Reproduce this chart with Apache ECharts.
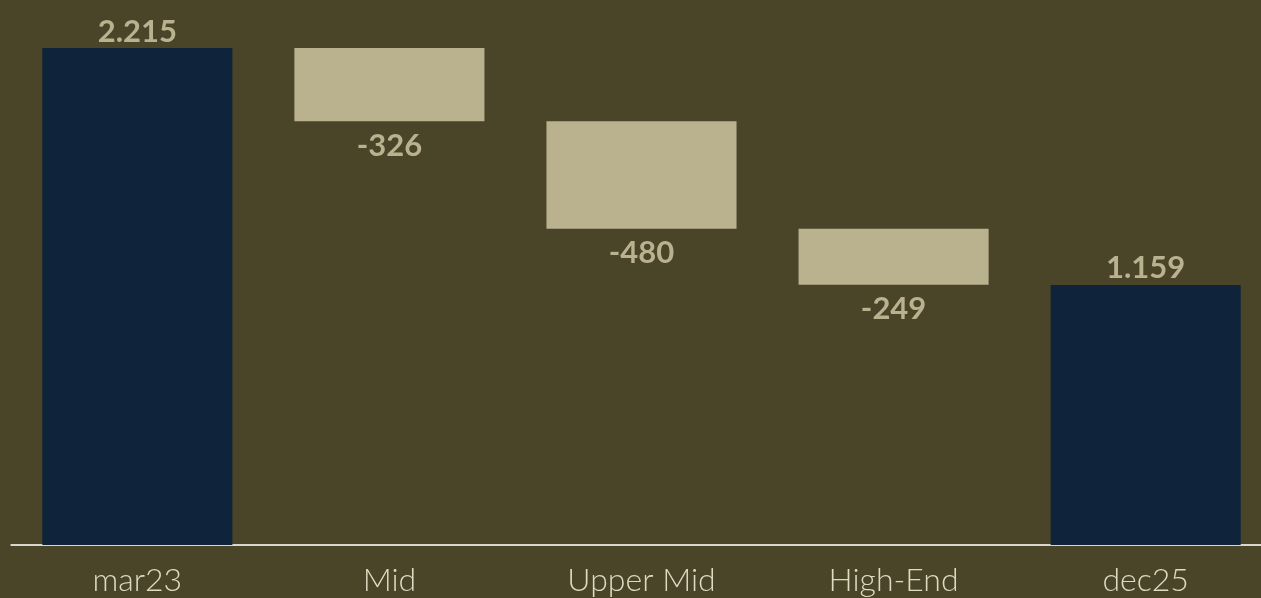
<!DOCTYPE html>
<html>
<head>
<meta charset="utf-8">
<style>
  html, body { margin: 0; padding: 0; background: #4a4529; }
  #chart { width: 1261px; height: 598px; }
</style>
<script src="https://cdn.jsdelivr.net/npm/echarts@6/dist/echarts.min.js"></script>
</head>
<body>
<div id="chart"></div>
<script>
// Bridge: start total, segment changes, end total
const categories = ['mar23', 'Mid', 'Upper Mid', 'High-End', 'dec25'];
const changes = [2215, -326, -480, -249, 1159];
const isTotal = [true, false, false, false, true];

// Invisible offsets and visible heights for the stacked waterfall
const offsets = [];
const heights = [];
let running = 0;
changes.forEach((v, i) => {
  if (isTotal[i]) {
    offsets.push(0);
    heights.push(v);
    running = v;
  } else {
    running += v;
    offsets.push(v < 0 ? running : running - v);
    heights.push(Math.abs(v));
  }
});

const NAVY = '#0f233b';
const SAND = '#bab18f';

function fmt(v) {
  const s = Math.abs(v).toString();
  const body = s.length > 3 ? s.slice(0, s.length - 3) + '.' + s.slice(s.length - 3) : s;
  return (v < 0 ? '-' : '') + body;
}

const chart = echarts.init(document.getElementById('chart'));
chart.setOption({
  backgroundColor: '#4a4529',
  animation: false,
  grid: {
    left: 11.3, right: -10.7, top: 6.5, bottom: 53,
    containLabel: false,
    outerBoundsMode: 'none'
  },
  xAxis: {
    type: 'category',
    data: categories,
    axisTick: { show: false },
    axisLine: { show: true, lineStyle: { color: '#d9d6cc', width: 2 } },
    axisLabel: {
      color: '#dedac3',
      fontFamily: 'Lato',
      fontWeight: 300,
      fontSize: 32,
      margin: 20
    }
  },
  yAxis: {
    type: 'value',
    min: 0,
    max: 2400,
    show: false,
    splitLine: { show: false }
  },
  series: [
    {
      type: 'bar',
      stack: 'wf',
      data: offsets,
      itemStyle: { color: 'transparent' },
      barCategoryGap: '24.6%',
      silent: true
    },
    {
      type: 'bar',
      stack: 'wf',
      data: heights.map((h, i) => ({
        value: h,
        itemStyle: { color: isTotal[i] ? NAVY : SAND },
        label: {
          show: true,
          position: isTotal[i] ? 'top' : 'bottom',
          distance: isTotal[i] ? 1 : 9,
          formatter: () => fmt(changes[i])
        }
      })),
      barCategoryGap: '24.6%',
      label: {
        color: SAND,
        fontFamily: 'Lato',
        fontWeight: 'bold',
        fontSize: 31
      }
    }
  ]
});
</script>
</body>
</html>
